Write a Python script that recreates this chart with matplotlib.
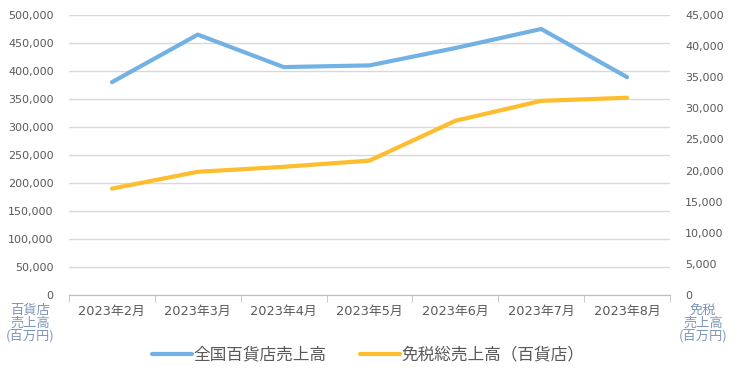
import matplotlib.pyplot as plt
import numpy as np
from matplotlib.ticker import FuncFormatter, MultipleLocator

plt.rcParams['font.family'] = ['DejaVu Sans', 'Noto Sans CJK JP']

months = ['2023年2月', '2023年3月', '2023年4月', '2023年5月', '2023年6月', '2023年7月', '2023年8月']
dept_sales = [380000, 465000, 407000, 410000, 441000, 475000, 389000]
taxfree_sales = [17100, 19800, 20600, 21600, 28000, 31200, 31700]

blue = '#72b1e3'
orange = '#fdbd2c'
grid_c = '#d9d9d9'
text_c = '#595959'
label_c = '#8096b8'
cjk = ['Noto Sans CJK JP', 'DejaVu Sans']

fig = plt.figure(figsize=(7.37, 3.75), dpi=100)
ax = fig.add_axes([69/737, 1-295/375, 601/737, 280/375])
ax2 = ax.twinx()

x = np.arange(len(months))
ax.plot(x, dept_sales, color=blue, lw=3, solid_capstyle='round', label='全国百貨店売上高', zorder=3)
ax2.plot(x, taxfree_sales, color=orange, lw=3, solid_capstyle='round', label='免税総売上高（百貨店）', zorder=3)

ax.set_xlim(-0.5, len(months)-0.5)
ax.set_ylim(0, 500000)
ax2.set_ylim(0, 45000)
ax.yaxis.set_major_locator(MultipleLocator(50000))
ax2.yaxis.set_major_locator(MultipleLocator(5000))
fmt = FuncFormatter(lambda v, p: f'{int(v):,}')
ax.yaxis.set_major_formatter(fmt)
ax2.yaxis.set_major_formatter(fmt)

ax.grid(axis='y', color=grid_c, lw=1)
ax.set_axisbelow(True)

for a in (ax, ax2):
    for s in ('top', 'left', 'right'):
        a.spines[s].set_visible(False)
    a.spines['bottom'].set_color('#bfbfbf')
    a.tick_params(axis='y', length=0, labelsize=8, labelcolor=text_c, pad=11)

ax.set_xticks(x)
ax.set_xticklabels(months, fontsize=9.3, color=text_c)
ax.tick_params(axis='x', length=0, pad=7)
ax.set_xticks(np.arange(-0.5, len(months)), minor=True)
ax.tick_params(axis='x', which='minor', length=5, color='#bfbfbf', direction='out')

fig.text(30/737, 1-323/375, '百貨店\n売上高\n(百万円)', ha='center', va='center',
         fontsize=9.5, color=label_c, linespacing=0.95, family=cjk)
fig.text(703/737, 1-323/375, '免税\n売上高\n(百万円)', ha='center', va='center',
         fontsize=9.5, color=label_c, linespacing=0.95, family=cjk)

h1, l1 = ax.get_legend_handles_labels()
h2, l2 = ax2.get_legend_handles_labels()
fig.legend(h1 + h2, l1 + l2, loc='center', bbox_to_anchor=(0.5, 1-355/375), ncol=2,
           frameon=False, prop={'family': cjk, 'size': 12}, labelcolor=text_c,
           handlelength=2.4, handletextpad=0.1, columnspacing=2.0)

plt.savefig('out.png', dpi=100)
